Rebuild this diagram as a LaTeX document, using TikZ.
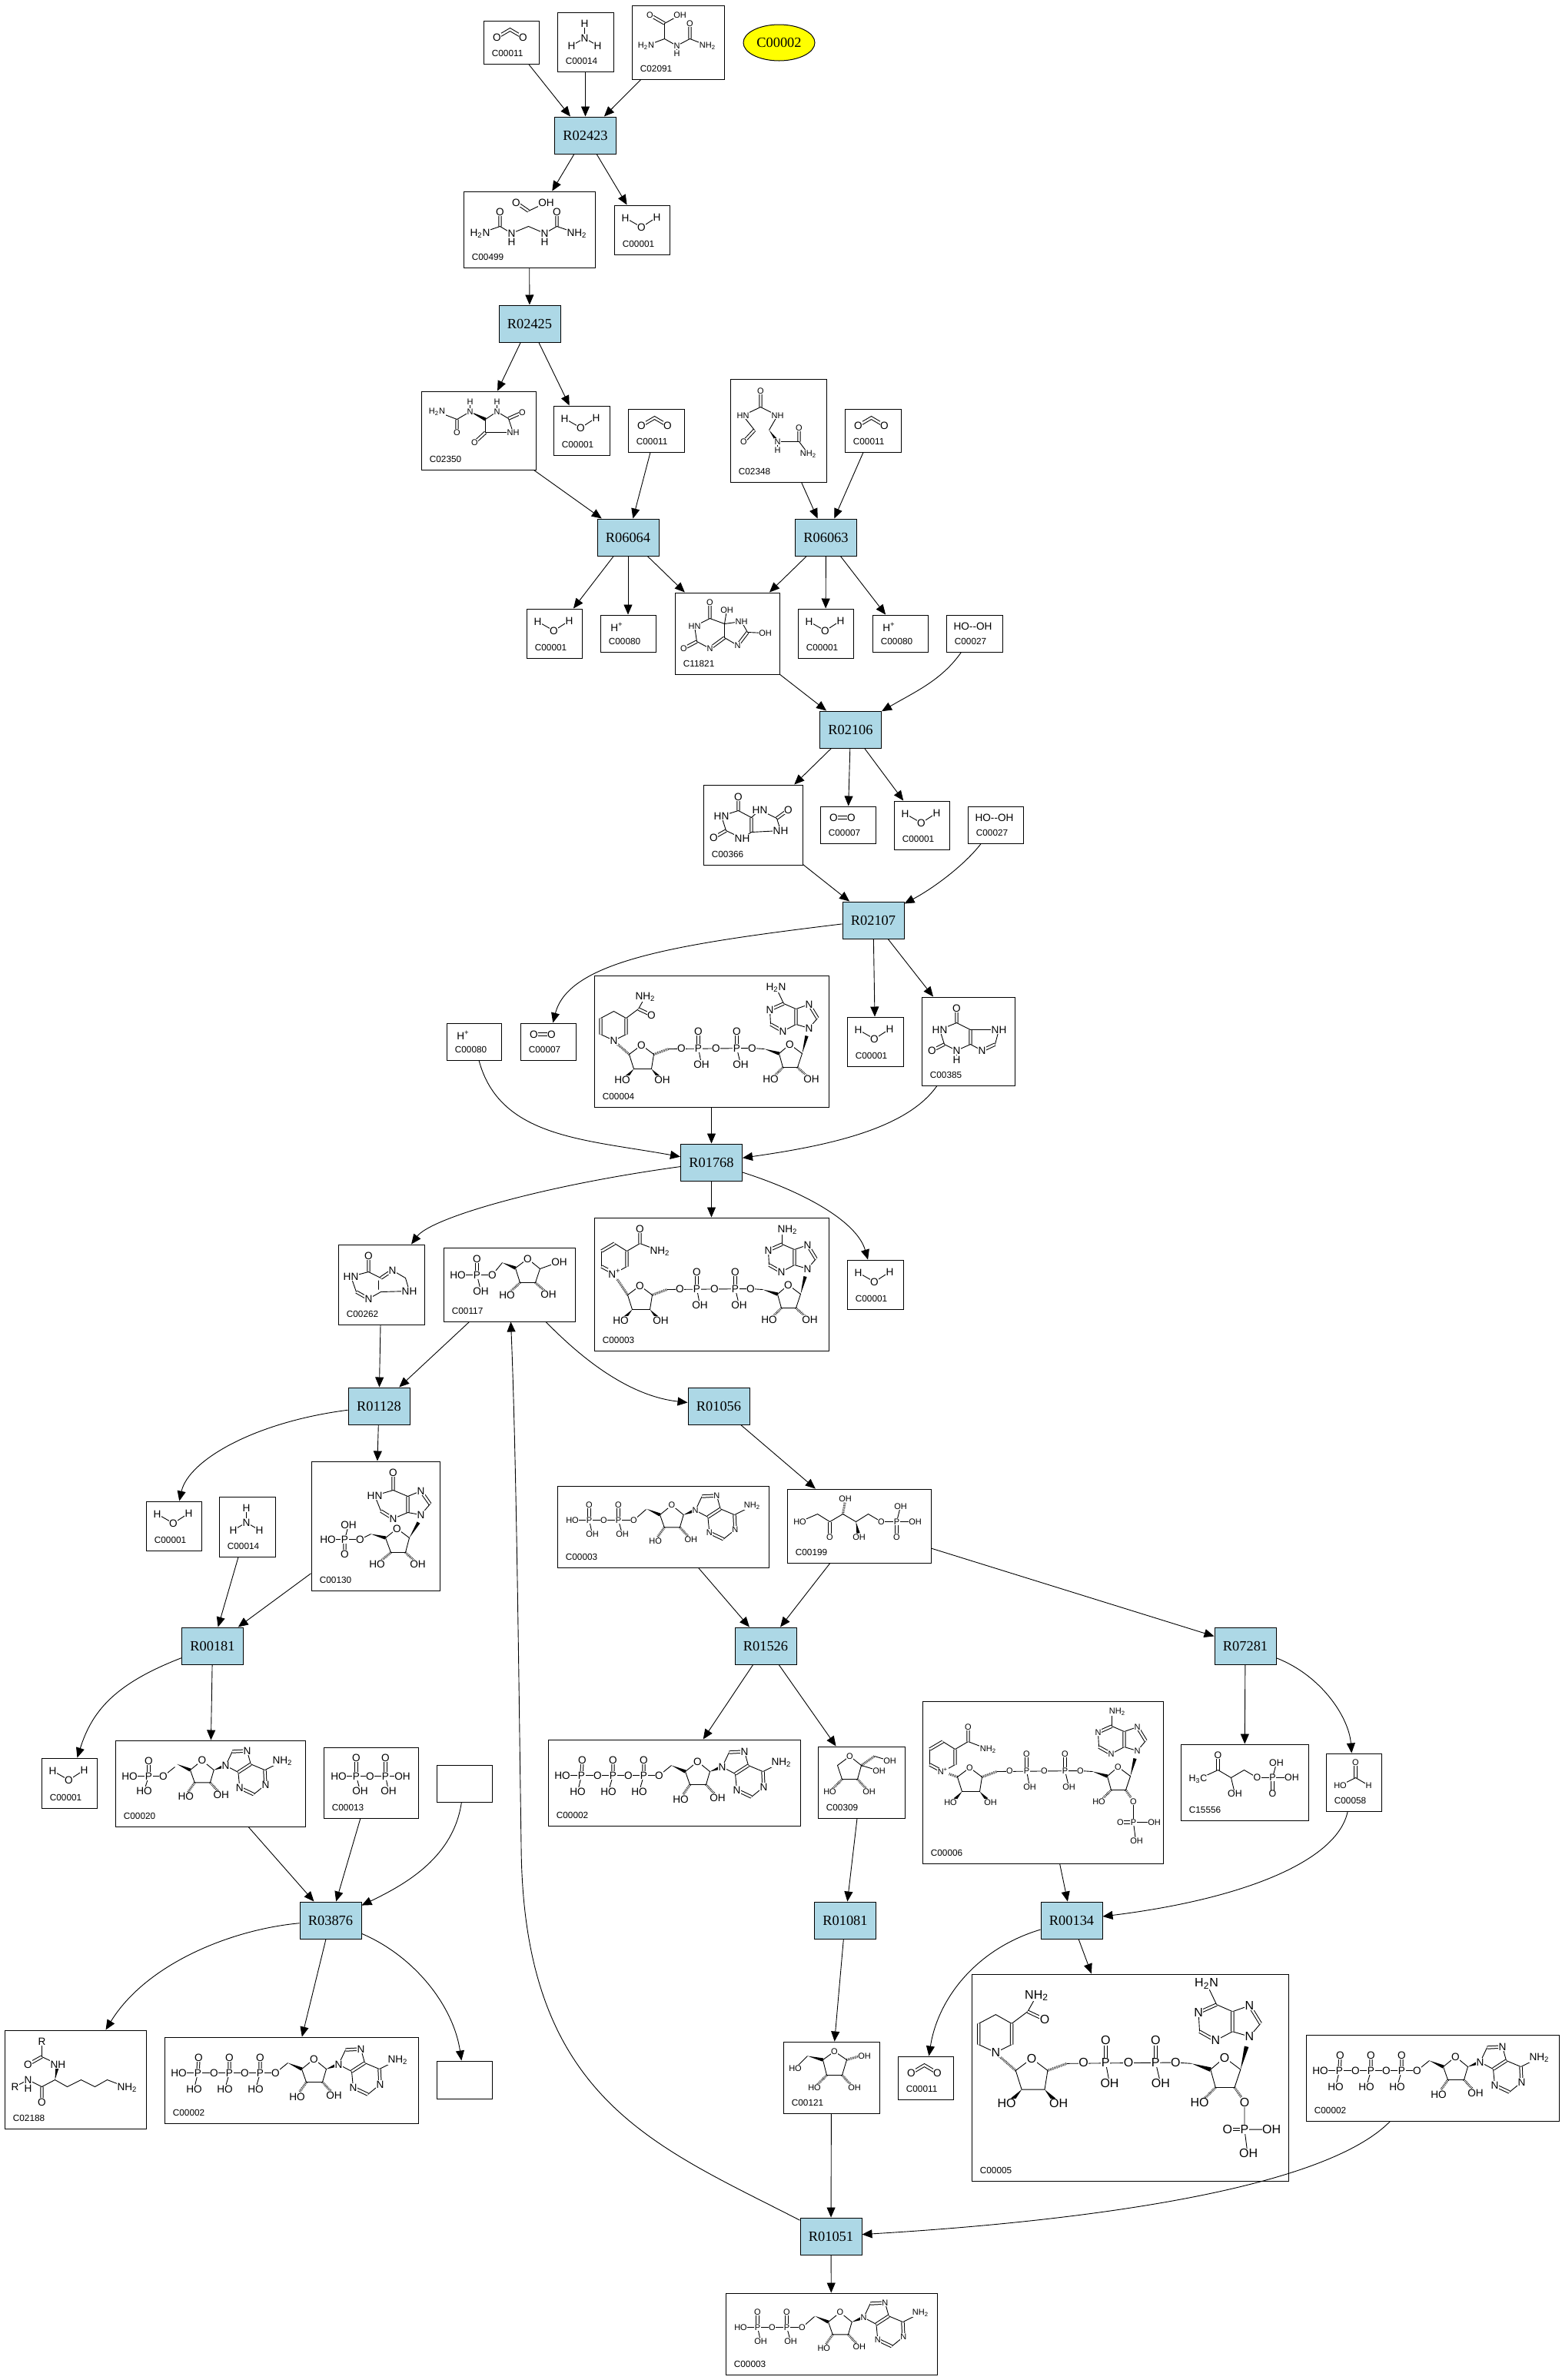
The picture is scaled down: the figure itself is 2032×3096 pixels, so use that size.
\documentclass[tikz,border=0pt]{standalone}
\usepackage{fontspec}
\setmainfont{Liberation Serif}
\newfontfamily\atomfam{Liberation Sans}
\usetikzlibrary{positioning,arrows.meta,shapes.geometric,calc}
\definecolor{crxn}{HTML}{ADD8E6}
\definecolor{ctarget}{HTML}{FFFF00}
\newcounter{atomno}
\newcommand\atomfont{\atomfam\fontsize{6.8}{8}\selectfont}
\newcommand\smalltype{\renewcommand\atomfont{\atomfam\fontsize{5.5}{6.5}\selectfont}}
\newcommand\largetype{\renewcommand\atomfont{\atomfam\fontsize{8}{9}\selectfont}}
\tikzset{
  reaction/.style={draw, fill=crxn, line width=0.5pt, inner sep=0pt,
    minimum width=40pt, minimum height=24pt, font=\fontsize{9.2}{11}\selectfont},
  target/.style={ellipse, draw, fill=ctarget, line width=0.5pt, inner sep=0pt,
    minimum width=46.5pt, minimum height=23.5pt, font=\fontsize{9.2}{11}\selectfont},
  compound/.style={draw, fill=white, line width=0.5pt, inner sep=0pt},
  codelabel/.style={anchor=west, inner sep=0pt, font=\atomfam\fontsize{5.9}{7}\selectfont},
  atomlabel/.style={fill=white, inner sep=0.25pt, font=\atomfont},
  bond/.style={line width=0.45pt},
  dbl/.style={double, double distance=1.2pt, line width=0.5pt},
  hash/.style={line width=1.6pt, dash pattern=on 0.3pt off 0.6pt},
  flow/.style={-{Triangle[length=6.5pt,width=5.5pt]}, line width=0.45pt}
}
\newcommand\atom[2]{\stepcounter{atomno}\node[atomlabel] (atom\theatomno) at (#1) {#2};}
\newcommand\wedgeb[2]{\fill (#1) -- ($(#2)!1.1pt!90:(#1)$) -- ($(#2)!1.1pt!-90:(#1)$) -- cycle;}
\newcommand\nhtwo{NH\textsubscript{2}}
\newcommand\htwon{H\textsubscript{2}N}
\newcommand\compound[7]{%
  \pgfmathsetmacro\boxw{#4-#2}\pgfmathsetmacro\boxh{#5-#3}%
  \node[compound, minimum width=\boxw*0.5pt, minimum height=\boxh*0.5pt] (#1) at ({(#2+#4)/2},{(#3+#5)/2}) {};
  \node[codelabel] (#1-code) at ([xshift=5.5pt,yshift=7.2pt]#1.south west) {#6};
  \begin{scope}[shift={(#1.north west)}]#7\end{scope}
}
\newcommand\molwater{\draw[bond] (15,17)--(36,29)--(56,16);
  \atom{15,17}{H}\atom{36,29}{O}\atom{56,16}{H}}
\newcommand\molcotwo{\draw[dbl] (18,22)--(35,12)--(52,22);
  \atom{18,22}{O}\atom{52,22}{O}}
\newcommand\molnhthree{\draw[bond] (36,15)--(36,34) (19,44)--(36,34)--(53,44);
  \atom{36,15}{H}\atom{36,34}{N}\atom{19,44}{H}\atom{53,44}{H}}
\newcommand\molhplus{\atom{22,16}{H\textsuperscript{+}}}
\newcommand\molhooh{\atom{35,15}{HO--OH}}
\newcommand\moloxygen{\draw[dbl] (18,15)--(41,15);\atom{18,15}{O}\atom{41,15}{O}}
\newcommand\molcarbamoyl{\smalltype
  \draw[dbl] (24,13)--(43,24) (76,44)--(76,24);
  \draw[bond] (63,13)--(43,24)--(43,44)--(19,53) (43,44)--(59,53)--(76,44)--(99,53) (59,53)--(59,63);
  \atom{24,13}{O}\atom{63,13}{OH}\atom{19,53}{\htwon}\atom{59,53}{N}\atom{59,63}{H}\atom{76,24}{O}\atom{99,53}{\nhtwo}}
\newcommand\molallantoate{
  \draw[dbl] (69,15)--(85,26) (48,27)--(48,46) (122,27)--(122,46);
  \draw[bond] (85,26)--(108,15) (22,55)--(48,46)--(63,55)--(85,46)--(106,55)--(122,46)--(148,55) (63,55)--(63,66) (106,55)--(106,66);
  \atom{69,15}{O}\atom{108,15}{OH}\atom{48,27}{O}\atom{122,27}{O}\atom{22,55}{\htwon}\atom{63,55}{N}\atom{63,66}{H}\atom{106,55}{N}\atom{106,66}{H}\atom{148,55}{\nhtwo}}
\newcommand\molallantoin{\smalltype
  \draw[dbl] (47,37)--(47,54) (114,36)--(132,28) (84,54)--(70,67);
  \draw[bond] (21,27)--(47,37)--(64,27)--(64,14) (84,37)--(99,27)--(99,14) (99,27)--(114,36)--(120,54)--(84,54)--(84,37);
  \wedgeb{64,27}{84,37}
  \atom{21,27}{\htwon}\atom{47,54}{O}\atom{64,27}{N}\atom{64,14}{H}\atom{99,27}{N}\atom{99,14}{H}\atom{132,28}{O}\atom{120,54}{NH}\atom{70,67}{O}}
\newcommand\molureido{\smalltype
  \draw[dbl] (40,16)--(40,37) (32,67)--(18,82) (90,82)--(90,64);
  \draw[bond] (17,48)--(40,37)--(62,48)--(51,67) (17,48)--(32,67) (62,82)--(90,82)--(102,98) (62,82)--(62,93);
  \wedgeb{51,67}{62,82}
  \atom{40,16}{O}\atom{17,48}{HN}\atom{62,48}{NH}\atom{18,82}{O}\atom{62,82}{N}\atom{62,93}{H}\atom{90,64}{O}\atom{102,98}{\nhtwo}}
\newcommand\molhydroxyurate{\smalltype
  \draw[dbl] (46,13)--(46,34) (95,52)--(82,69) (65,59)--(46,73) (29,64)--(12,73);
  \draw[bond] (46,34)--(26,44)--(29,64)--(46,73) (46,34)--(65,41)--(68,23) (65,41)--(87,38)--(95,52)--(118,53) (82,69)--(65,59)--(65,41);
  \atom{46,13}{O}\atom{68,23}{OH}\atom{87,38}{NH}\atom{118,53}{OH}\atom{82,69}{N}\atom{46,73}{N}\atom{12,73}{O}\atom{26,44}{HN}}
\newcommand\molurate{
  \draw[dbl] (46,16)--(46,34) (30,60)--(14,69) (63,62)--(63,43) (96,44)--(111,33);
  \draw[bond] (46,34)--(24,41)--(30,60)--(51,70)--(63,62) (46,34)--(63,43)--(74,33)--(96,44)--(101,60)--(63,62);
  \atom{46,16}{O}\atom{24,41}{HN}\atom{14,69}{O}\atom{51,70}{NH}\atom{74,33}{HN}\atom{111,33}{O}\atom{101,60}{NH}}
\newcommand\molxanthine{
  \draw[dbl] (46,15)--(46,34) (30,62)--(14,70) (64,62)--(64,43) (96,62)--(79,70);
  \draw[bond] (46,34)--(24,43)--(30,62)--(46,70)--(64,62) (46,70)--(46,82) (46,34)--(64,43)--(101,43)--(96,62) (79,70)--(64,62);
  \atom{46,15}{O}\atom{24,43}{HN}\atom{14,70}{O}\atom{46,70}{N}\atom{46,82}{H}\atom{101,43}{NH}\atom{79,70}{N}}
\newcommand\molhypoxanthine{
  \draw[dbl] (40,15)--(40,36) (24,62)--(40,71) (56,44)--(71,34);
  \draw[bond] (40,36)--(17,42)--(24,62) (40,71)--(56,62)--(93,61)--(88,44)--(71,34) (56,44)--(40,36) (53,47)--(53,59);
  \atom{40,15}{O}\atom{17,42}{HN}\atom{40,71}{N}\atom{71,34}{N}\atom{93,61}{NH}}
\newcommand\molribosep{
  \draw[dbl] (44,15)--(44,36);
  \draw[bond] (19,36)--(64,36)--(77,20) (44,36)--(49,57) (94,27)--(110,15)--(126,28)--(120,46)--(100,46)--(94,27) (126,28)--(151,19);
  \wedgeb{77,20}{94,27}
  \draw[hash] (120,46)--(137,61) (100,46)--(83,62);
  \atom{44,15}{O}\atom{44,36}{P}\atom{19,36}{HO}\atom{49,57}{OH}\atom{64,36}{O}\atom{110,15}{O}\atom{151,19}{OH}\atom{137,61}{OH}\atom{83,62}{HO}}
\newcommand\molimp{
  \draw[dbl] (107,15)--(107,38) (91,65)--(107,75) (126,67)--(126,46) (143,39)--(155,56) (44,102)--(44,121);
  \draw[bond] (107,38)--(83,45)--(91,65) (107,75)--(126,67)--(143,70)--(155,56) (107,38)--(126,46)--(143,39);
  \wedgeb{128,100}{140,80}
  \draw[bond] (97,100)--(112,88)--(128,100)--(123,119)--(104,119)--(97,100) (78,95)--(64,102)--(22,102) (44,102)--(49,83);
  \wedgeb{78,95}{97,100}
  \draw[hash] (104,119)--(86,134) (123,119)--(139,134);
  \atom{107,15}{O}\atom{83,45}{HN}\atom{107,75}{N}\atom{143,39}{N}\atom{143,70}{N}\atom{112,88}{O}\atom{86,134}{HO}\atom{139,134}{OH}\atom{64,102}{O}\atom{44,102}{P}\atom{49,83}{OH}\atom{22,102}{HO}\atom{44,121}{O}}
\newcommand\ribade{
  \draw[bond] (0,0)--(16,-13)--(32,0)--(27,17)--(6,17)--cycle;
  \wedgeb{-18,-8}{0,0}
  \wedgeb{32,0}{45,-5}
  \draw[hash] (6,17)--(-3,30) (27,17)--(38,29);
  \draw[bond] (48,-6)--(57,-25) (77,-26)--(82,-8) (65,3)--(48,-6) (82,-8)--(101,0)--(125,-12) (102,20)--(86,33) (67,24)--(65,3);
  \draw[dbl] (57,-25)--(77,-26) (82,-8)--(65,3) (101,0)--(102,20) (86,33)--(67,24);
  \atom{16,-13}{O}\atom{48,-6}{N}\atom{77,-26}{N}\atom{125,-12}{\nhtwo}\atom{102,20}{N}\atom{67,24}{N}\atom{-6,36}{HO}\atom{42,34}{OH}}
\newcommand\molatp{
  \draw[bond] (19,47)--(145,47)--(161,34) (44,47)--(39,68) (85,47)--(79,68) (125,47)--(119,68);
  \draw[dbl] (44,47)--(45,27) (85,47)--(85,27) (125,47)--(125,27);
  \begin{scope}[shift={(179,42)}]\ribade\end{scope}
  \atom{19,47}{HO}\atom{44,47}{P}\atom{45,27}{O}\atom{39,68}{HO}\atom{65,47}{O}\atom{85,47}{P}\atom{85,27}{O}\atom{79,68}{HO}\atom{105,47}{O}\atom{125,47}{P}\atom{125,27}{O}\atom{119,68}{HO}\atom{145,47}{O}}
\newcommand\moladp{\smalltype
  \draw[bond] (20,45)--(100,45)--(116,31) (42,45)--(46,63) (80,45)--(85,63);
  \draw[dbl] (42,45)--(42,25) (80,45)--(80,25);
  \begin{scope}[shift={(134,38)},scale=0.96]\ribade\end{scope}
  \atom{20,45}{HO}\atom{42,45}{P}\atom{42,25}{O}\atom{46,63}{OH}\atom{61,45}{O}\atom{80,45}{P}\atom{80,25}{O}\atom{85,63}{OH}\atom{100,45}{O}}
\newcommand\molamp{
  \draw[bond] (19,47)--(63,47)--(78,35) (44,47)--(38,66);
  \draw[dbl] (44,47)--(44,27);
  \begin{scope}[shift={(98,39)},scale=0.96]\ribade\end{scope}
  \atom{19,47}{HO}\atom{44,47}{P}\atom{44,27}{O}\atom{38,66}{HO}\atom{63,47}{O}}
\newcommand\molppi{
  \draw[bond] (20,38)--(103,38) (43,38)--(48,57) (81,38)--(85,57);
  \draw[dbl] (43,38)--(43,14.5) (81,38)--(81,14.5);
  \atom{20,38}{HO}\atom{43,38}{P}\atom{43,14.5}{O}\atom{48,57}{OH}\atom{61,38}{O}\atom{81,38}{P}\atom{81,14.5}{O}\atom{103,38}{OH}\atom{85,57}{OH}}
\newcommand\molkdrp{\smalltype
  \draw[dbl] (56,43)--(56,63) (143,43)--(143,63);
  \draw[bond] (17,43)--(40,33)--(56,43)--(73,33)--(90,43)--(106,33)--(123,43)--(167,43) (143,43)--(148,23);
  \draw[hash] (73,33)--(76,16);
  \wedgeb{90,43}{93,58}
  \atom{76,13}{OH}\atom{17,43}{HO}\atom{56,63}{O}\atom{94,63}{OH}\atom{123,43}{O}\atom{143,43}{P}\atom{148,23}{OH}\atom{167,43}{OH}\atom{143,63}{O}}
\newcommand\molribulose{\smalltype
  \draw[bond] (42,13)--(26,25)--(32,43)--(52,43)--(57,25)--(42,13) (57,25)--(80,32) (74,13)--(94,19);
  \draw[hash] (57,25)--(74,13) (32,43)--(20,55) (52,43)--(63,55);
  \atom{42,13}{O}\atom{94,19}{OH}\atom{80,32}{OH}\atom{16,59}{HO}\atom{67,59}{OH}}
\newcommand\molribose{\smalltype
  \draw[bond] (67,13)--(52,24)--(57,44)--(77,44)--(83,24)--(67,13) (32,19)--(16,35);
  \wedgeb{32,19}{52,24}
  \draw[hash] (83,24)--(100,19) (57,44)--(45,56) (77,44)--(88,56);
  \atom{67,13}{O}\atom{16,35}{HO}\atom{106,19}{OH}\atom{41,60}{HO}\atom{93,60}{OH}}
\newcommand\molhydroxyketone{
  \renewcommand\atomfont{\atomfam\fontsize{6.2}{7}\selectfont}
  \draw[dbl] (49,15)--(49,34) (120,44)--(120,65);
  \draw[bond] (23,46)--(49,34)--(66,44)--(83,34)--(100,44)--(145,44) (66,44)--(71,65) (120,44)--(125,25);
  \atom{49,15}{O}\atom{23,46}{H\textsubscript{3}C}\atom{71,65}{OH}\atom{100,44}{O}\atom{120,44}{P}\atom{125,25}{OH}\atom{145,44}{OH}\atom{120,65}{O}}
\newcommand\molformate{\smalltype
  \draw[dbl] (39,12)--(39,32);
  \draw[bond] (19,42)--(39,32)--(56,42);
  \atom{39,12}{O}\atom{19,42}{HO}\atom{56,42}{H}}
\newcommand\mollysine{
  \draw[dbl] (49,35)--(31,45) (49,74)--(49,94);
  \draw[bond] (49,15)--(49,35)--(70,45) (66,65)--(49,74)--(31,65)--(31,76) (31,65)--(14,74) (66,65)--(82,74)--(100,65)--(118,74)--(134,65)--(160,75);
  \wedgeb{66,65}{69,49}
  \atom{49,15}{R}\atom{31,45}{O}\atom{70,45}{NH}\atom{49,94}{O}\atom{31,65}{N}\atom{31,76}{H}\atom{14,74}{R}\atom{160,75}{\nhtwo}}
\newcommand\nadcore[2]{
  \draw[bond] (46,103)--(62,91)--(78,103)--(75,122)--(52,122)--cycle;
  \wedgeb{52,122}{43,132}
  \wedgeb{75,122}{84,132}
  \draw[hash] (78,103)--(97,96);
  \draw[bond] (97,96)--(206,95)--(222,96) (136,95)--(140,116) (186,95)--(191,116);
  \draw[dbl] (136,95)--(136,73) (186,95)--(186,73);
  \wedgeb{222,96}{241,102}
  \draw[bond] (241,102)--(255,90)--(271,102)--(265,120)--(246,120)--cycle;
  \draw[hash] (246,120)--(235,131);
  \wedgeb{271,102}{277,79}
  \draw[bond] (280,69)--(291,56) (280,38)--(263,44) (263,64)--(280,69) (263,44)--(247,37) (229,45)--(230,64) (246,73)--(263,64);
  \draw[dbl] (291,56)--(280,38) (263,44)--(263,64) (247,37)--(229,45) (230,64)--(246,73);
  #1
  \atom{62,91}{O}\atom{114,95}{O}\atom{136,95}{P}\atom{136,73}{O}\atom{140,116}{OH}\atom{159,95}{O}\atom{186,95}{P}\atom{186,73}{O}\atom{191,116}{OH}\atom{206,95}{O}\atom{255,90}{O}
  \atom{37,136}{HO}\atom{89,136}{OH}\atom{230,135}{HO}\atom{280,69}{N}\atom{280,38}{N}\atom{229,45}{N}\atom{246,73}{N}
  #2
}
\newcommand\aminelow{\draw[bond] (247,37)--(237,16);\atom{237,16}{\htwon}}
\newcommand\aminehigh{\draw[bond] (247,37)--(247,20);\atom{254,18}{\nhtwo}}
\newcommand\tailoh{\draw[hash] (265,120)--(277,131);\atom{283,135}{OH}}
\newcommand\tailp{\draw[hash] (265,120)--(272,130);
  \draw[bond] (275,135)--(275,162)--(302,162) (275,162)--(278,186);
  \draw[dbl] (275,162)--(258,162);
  \atom{275,135}{O}\atom{275,162}{P}\atom{258,162}{O}\atom{302,162}{OH}\atom{279,186}{OH}}
\newcommand\nicred{
  \draw[bond] (26,85)--(9,77) (9,56)--(26,47)--(42,56) (42,77)--(26,85) (42,56)--(58,44)--(67,28);
  \draw[dbl] (9,77)--(9,56) (42,56)--(42,77) (58,44)--(75,52);
  \atom{26,85}{N}\atom{75,52}{O}\atom{67,28}{\nhtwo}}
\newcommand\nicox{
  \draw[bond] (10,64)--(10,44) (27,34)--(43,44) (43,64)--(27,73) (43,44)--(60,34)--(86,44);
  \draw[dbl] (27,73)--(10,64) (10,44)--(27,34) (43,44)--(43,64) (60,34)--(60,15);
  \atom{27,73}{N\textsuperscript{+}}\atom{60,15}{O}\atom{86,44}{\nhtwo}}
\newcommand\molnadh{\draw[hash] (46,103)--(30,89);\nicred\nadcore{\aminelow}{\tailoh}}
\newcommand\molnadp{\draw[hash] (44,101)--(30,80);\nicox
  \begin{scope}[shift={(-2,-2)}]\nadcore{\aminehigh}{\tailoh}\end{scope}}
\newcommand\molnadphox{\smalltype\draw[hash] (46,99)--(32,94);
  \begin{scope}[shift={(0,19)}]\nicox\end{scope}
  \begin{scope}[shift={(0,-4)}]\nadcore{\aminehigh}{\tailp}\end{scope}}
\newcommand\molnadph{\largetype
  \begin{scope}[shift={(-2,-8)},scale=1.3]\draw[hash] (46,103)--(30,89);\nicred\nadcore{\aminelow}{\tailp}\end{scope}}

\begin{document}
\begin{tikzpicture}[x=0.5pt,y=-0.5pt]
    \useasboundingbox (0,0) rectangle (2032,3096);

    \node[reaction] (r02423) at (761.5,176) {R02423};
    \node[reaction] (r02425) at (689,421) {R02425};
    \node[reaction] (r06064) at (817,699) {R06064};
    \node[reaction] (r06063) at (1074.5,699) {R06063};
    \node[reaction] (r02106) at (1106.5,949) {R02106};
    \node[reaction] (r02107) at (1136,1197) {R02107};
    \node[reaction] (r01768) at (925.5,1512) {R01768};
    \node[reaction] (r01128) at (493,1829) {R01128};
    \node[reaction] (r01056) at (935,1829) {R01056};
    \node[reaction] (r00181) at (276.5,2141) {R00181};
    \node[reaction] (r01526) at (996,2141) {R01526};
    \node[reaction] (r07281) at (1620,2141) {R07281};
    \node[reaction] (r03876) at (430,2498) {R03876};
    \node[reaction] (r01081) at (1099.5,2498) {R01081};
    \node[reaction] (r00134) at (1394,2498) {R00134};
    \node[reaction] (r01051) at (1081,2909) {R01051};
    \node[target] (c00002) at (1013.5,55.5) {C00002};
    \node[compound, minimum width=36pt, minimum height=24pt] (blank1) at (604,2320) {};
    \node[compound, minimum width=36pt, minimum height=24.5pt] (blank2) at (604,2705.5) {};

    \compound{c00011a}{629}{27}{701}{83}{C00011}{\molcotwo}
    \compound{c00014a}{725}{16}{798}{93}{C00014}{\molnhthree}
    \compound{c02091}{822}{7}{942}{103}{C02091}{\molcarbamoyl}
    \compound{c00499}{603}{249}{774}{348}{C00499}{\molallantoate}
    \compound{c00001a}{799}{267}{871}{331}{C00001}{\molwater}
    \compound{c02350}{548}{509}{697}{611}{C02350}{\molallantoin}
    \compound{c00001b}{720}{528}{793}{592}{C00001}{\molwater}
    \compound{c00011b}{817}{532}{890}{588}{C00011}{\molcotwo}
    \compound{c02348}{950}{493}{1075}{627}{C02348}{\molureido}
    \compound{c00011c}{1099}{532}{1172}{588}{C00011}{\molcotwo}
    \compound{c00001c}{685}{792}{757}{856}{C00001}{\molwater}
    \compound{c00080a}{781}{800}{853}{848}{C00080}{\molhplus}
    \compound{c11821}{878}{771}{1014}{877}{C11821}{\molhydroxyurate}
    \compound{c00001d}{1038}{792}{1110}{856}{C00001}{\molwater}
    \compound{c00080b}{1135}{800}{1207}{848}{C00080}{\molhplus}
    \compound{c00027a}{1231}{800}{1304}{848}{C00027}{\molhooh}
    \compound{c00366}{915}{1021}{1044}{1125}{C00366}{\molurate}
    \compound{c00007a}{1067}{1049}{1139}{1097}{C00007}{\moloxygen}
    \compound{c00001e}{1163}{1042}{1235}{1105}{C00001}{\molwater}
    \compound{c00027b}{1259}{1049}{1331}{1097}{C00027}{\molhooh}
    \compound{c00080c}{581}{1331}{652}{1379}{C00080}{\molhplus}
    \compound{c00007b}{677}{1331}{749}{1379}{C00007}{\moloxygen}
    \compound{c00004}{773}{1269}{1078}{1440}{C00004}{\molnadh}
    \compound{c00001f}{1102}{1323}{1175}{1387}{C00001}{\molwater}
    \compound{c00385}{1199}{1297}{1320}{1412}{C00385}{\molxanthine}
    \compound{c00262}{440}{1619}{552}{1723}{C00262}{\molhypoxanthine}
    \compound{c00117}{577}{1623}{748}{1719}{C00117}{\molribosep}
    \compound{c00003a}{773}{1584}{1078}{1757}{C00003}{\molnadp}
    \compound{c00001g}{1102}{1639}{1175}{1703}{C00001}{\molwater}
    \compound{c00001h}{190}{1953}{262}{2017}{C00001}{\molwater}
    \compound{c00014b}{285}{1947}{358}{2025}{C00014}{\molnhthree}
    \compound{c00130}{405}{1901}{572}{2069}{C00130}{\molimp}
    \compound{c00003b}{725}{1933}{1000}{2039}{C00003}{\moladp}
    \compound{c00199}{1024}{1937}{1211}{2033}{C00199}{\molkdrp}
    \compound{c00001i}{54}{2287}{126}{2352}{C00001}{\molwater}
    \compound{c00020}{150}{2264}{397}{2376}{C00020}{\molamp}
    \compound{c00013}{421}{2273}{544}{2365}{C00013}{\molppi}
    \compound{c00002b}{713}{2263}{1041}{2375}{C00002}{\molatp}
    \compound{c00309}{1064}{2272}{1177}{2365}{C00309}{\molribulose}
    \compound{c00006}{1200}{2213}{1513}{2424}{C00006}{\molnadphox}
    \compound{c15556}{1536}{2269}{1702}{2368}{C15556}{\molhydroxyketone}
    \compound{c00058}{1725}{2281}{1797}{2356}{C00058}{\molformate}
    \compound{c02188}{6}{2641}{190}{2769}{C02188}{\mollysine}
    \compound{c00002a}{214}{2650}{544}{2762}{C00002}{\molatp}
    \compound{c00121}{1019}{2656}{1144}{2749}{C00121}{\molribose}
    \compound{c00011d}{1168}{2675}{1240}{2731}{C00011}{\molcotwo}
    \compound{c00005}{1264}{2568}{1676}{2837}{C00005}{\molnadph}
    \compound{c00002c}{1699}{2647}{2028}{2759}{C00002}{\molatp}
    \compound{c00003c}{944}{2983}{1219}{3089}{C00003}{\moladp}

    \draw[flow] (c00011a) -- (r02423);
    \draw[flow] (c00014a) -- (r02423);
    \draw[flow] (c02091) -- (r02423);
    \draw[flow] (r02423) -- (c00499);
    \draw[flow] (r02423) -- (c00001a);
    \draw[flow] (c00499) -- (r02425);
    \draw[flow] (r02425) -- (c02350);
    \draw[flow] (r02425) -- (c00001b);
    \draw[flow] (c02350) -- (r06064);
    \draw[flow] (c00011b) -- (r06064);
    \draw[flow] (c02348) -- (r06063);
    \draw[flow] (c00011c) -- (r06063);
    \draw[flow] (r06064) -- (c00001c);
    \draw[flow] (r06064) -- (c00080a);
    \draw[flow] (r06064) -- (c11821);
    \draw[flow] (r06063) -- (c11821);
    \draw[flow] (r06063) -- (c00001d);
    \draw[flow] (r06063) -- (c00080b);
    \draw[flow] (c11821) -- (r02106);
    \draw[flow] (c00027a) .. controls (1225,885) and (1190,900) .. (r02106);
    \draw[flow] (r02106) -- (c00366);
    \draw[flow] (r02106) -- (c00007a);
    \draw[flow] (r02106) -- (c00001e);
    \draw[flow] (c00366) -- (r02107);
    \draw[flow] (c00027b) .. controls (1255,1125) and (1215,1155) .. (r02107);
    \draw[flow] (r02107) .. controls (880,1228) and (740,1250) .. (c00007b);
    \draw[flow] (r02107) -- (c00001f);
    \draw[flow] (r02107) -- (c00385);
    \draw[flow] (c00080c) .. controls (650,1480) and (760,1482) .. (r01768);
    \draw[flow] (c00004) -- (r01768);
    \draw[flow] (c00385) .. controls (1180,1468) and (1080,1490) .. (r01768);
    \draw[flow] (r01768) .. controls (700,1543) and (560,1585) .. (c00262);
    \draw[flow] (r01768) -- (c00003a);
    \draw[flow] (r01768) .. controls (1050,1552) and (1115,1590) .. (c00001g);
    \draw[flow] (c00262) -- (r01128);
    \draw[flow] (c00117) -- (r01128);
    \draw[flow] (c00117) .. controls (745,1755) and (810,1815) .. (r01056);
    \draw[flow] (r01128) .. controls (330,1850) and (245,1900) .. (c00001h);
    \draw[flow] (r01128) -- (c00130);
    \draw[flow] (c00014b) -- (r00181);
    \draw[flow] (c00130) -- (r00181);
    \draw[flow] (r01056) -- (c00199);
    \draw[flow] (r00181) .. controls (150,2190) and (120,2225) .. (c00001i);
    \draw[flow] (r00181) -- (c00020);
    \draw[flow] (c00020) -- (r03876);
    \draw[flow] (c00013) -- (r03876);
    \draw[flow] (blank1) .. controls (590,2415) and (530,2450) .. (r03876);
    \draw[flow] (r03876) .. controls (300,2510) and (190,2555) .. (c02188);
    \draw[flow] (r03876) -- (c00002a);
    \draw[flow] (r03876) .. controls (540,2545) and (590,2610) .. (blank2);
    \draw[flow] (c00003b) -- (r01526);
    \draw[flow] (c00199) -- (r01526);
    \draw[flow] (c00199) -- (r07281);
    \draw[flow] (r01526) -- (c00002b);
    \draw[flow] (r01526) -- (c00309);
    \draw[flow] (c00309) -- (r01081);
    \draw[flow] (r07281) -- (c15556);
    \draw[flow] (r07281) .. controls (1720,2180) and (1755,2235) .. (c00058);
    \draw[flow] (c00006) -- (r00134);
    \draw[flow] (c00058) .. controls (1740,2420) and (1620,2470) .. (r00134);
    \draw[flow] (r00134) .. controls (1270,2535) and (1220,2600) .. (c00011d);
    \draw[flow] (r00134) -- (c00005);
    \draw[flow] (r01081) -- (c00121);
    \draw[flow] (c00121) -- (r01051);
    \draw[flow] (c00002c) .. controls (1720,2850) and (1400,2890) .. (r01051);
    \draw[flow] (r01051) -- (c00003c);
    \coordinate (bend) at (678,2400);
    \draw[flow] (r01051) .. controls (850,2790) and (680,2730) .. (bend) .. controls (675,2200) and (672,1900) .. (c00117);
  \end{tikzpicture}
\end{document}
